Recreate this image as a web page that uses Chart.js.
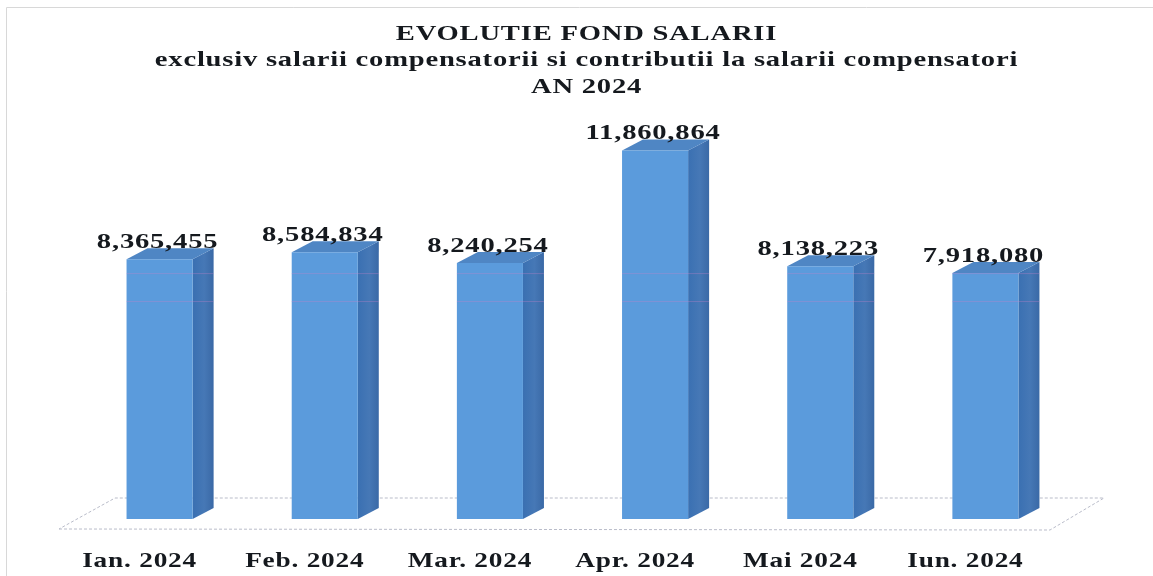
<!DOCTYPE html>
<html>
<head>
<meta charset="utf-8">
<style>
html, body { margin: 0; padding: 0; background: #fff; }
#wrap { position: relative; width: 1153px; height: 576px; }
</style>
<script src="https://cdn.jsdelivr.net/npm/chart.js@4"></script>
</head>
<body>
<div id="wrap"><canvas id="myChart"></canvas></div>
<script>
const categories = ['Ian. 2024', 'Feb. 2024', 'Mar. 2024', 'Apr. 2024', 'Mai 2024', 'Iun. 2024'];
const fondSalarii = [8365455, 8584834, 8240254, 11860864, 8138223, 7918080];
const valueLabels = ['8,365,455', '8,584,834', '8,240,254', '11,860,864', '8,138,223', '7,918,080'];
const titleLines = [
    'EVOLUTIE FOND SALARII',
    'exclusiv salarii compensatorii si contributii la salarii compensatori',
    'AN 2024'
];
const gridValues = [7000000, 7900000];

const DEPTH_X = 21;
const DEPTH_Y = 11;
const TEXT_STRETCH = 1.3;
const TITLE_SHIFT = 14;

// the scanned text is wider than any installed serif, so stretch it around its anchor
function stretchText(ctx) {
    const fillText = ctx.fillText.bind(ctx);
    ctx.fillText = (text, x, y) => {
        ctx.save();
        ctx.translate(x, y);
        ctx.scale(TEXT_STRETCH, 1);
        fillText(text, 0, 0);
        ctx.restore();
    };
}

// 3D look: side and top faces, floor and value labels hang off the real bar elements
const bars3d = {
    id: 'bars3d',
    beforeInit(chart) {
        stretchText(chart.ctx);
    },
    afterLayout(chart) {
        // title sits centred on the page width, not on the plot
        chart.titleBlock.left += TITLE_SHIFT;
        chart.titleBlock.right += TITLE_SHIFT;
    },
    beforeDraw(chart) {
        const ctx = chart.ctx;
        ctx.letterSpacing = '0.6px';
        ctx.save();
        ctx.strokeStyle = '#d8d8d8';
        ctx.lineWidth = 1;
        ctx.beginPath();
        ctx.moveTo(6.5, chart.height);
        ctx.lineTo(6.5, 7.5);
        ctx.lineTo(chart.width, 7.5);
        ctx.stroke();
        ctx.restore();
    },
    beforeDatasetsDraw(chart) {
        const ctx = chart.ctx;
        const area = chart.chartArea;
        const base = chart.scales.y.getPixelForValue(0);
        ctx.save();
        ctx.strokeStyle = '#b9bcc9';
        ctx.lineWidth = 1;
        ctx.setLineDash([3, 2]);
        ctx.beginPath();
        ctx.moveTo(area.left - 18, base + 10);
        ctx.lineTo(area.right - 18, base + 11);
        ctx.lineTo(area.right + 36, base - 21);
        ctx.lineTo(area.left + 38, base - 21);
        ctx.closePath();
        ctx.stroke();
        ctx.restore();

        const meta = chart.getDatasetMeta(0);
        meta.data.forEach((bar) => {
            const right = bar.x + bar.width / 2;
            const left = bar.x - bar.width / 2;
            const side = ctx.createLinearGradient(right, 0, right + DEPTH_X, 0);
            side.addColorStop(0, '#3a70b2');
            side.addColorStop(0.55, '#4678b6');
            side.addColorStop(1, '#3a69a6');
            ctx.fillStyle = side;
            ctx.beginPath();
            ctx.moveTo(right, bar.y);
            ctx.lineTo(right + DEPTH_X, bar.y - DEPTH_Y);
            ctx.lineTo(right + DEPTH_X, bar.base - DEPTH_Y);
            ctx.lineTo(right, bar.base);
            ctx.closePath();
            ctx.fill();
            ctx.fillStyle = '#4f86c4';
            ctx.beginPath();
            ctx.moveTo(left, bar.y);
            ctx.lineTo(left + DEPTH_X, bar.y - DEPTH_Y);
            ctx.lineTo(right + DEPTH_X, bar.y - DEPTH_Y);
            ctx.lineTo(right, bar.y);
            ctx.closePath();
            ctx.fill();
        });
    },
    afterDatasetsDraw(chart) {
        const ctx = chart.ctx;
        const meta = chart.getDatasetMeta(0);
        ctx.save();
        // the gridlines only show through the bars in the scan
        ctx.strokeStyle = 'rgba(200, 130, 200, 0.35)';
        ctx.lineWidth = 1;
        meta.data.forEach((bar) => {
            gridValues.forEach((v) => {
                const y = chart.scales.y.getPixelForValue(v);
                if (y < bar.y) return;
                ctx.beginPath();
                ctx.moveTo(bar.x - bar.width / 2, y);
                ctx.lineTo(bar.x + bar.width / 2 + DEPTH_X, y);
                ctx.stroke();
            });
        });
        ctx.fillStyle = '#15191e';
        ctx.font = 'bold 22px "Liberation Serif"';
        ctx.textAlign = 'center';
        ctx.textBaseline = 'middle';
        meta.data.forEach((bar, i) => {
            ctx.fillText(valueLabels[i], bar.x - 2, bar.y - 17);
        });
        ctx.restore();
    }
};

new Chart(document.getElementById('myChart'), {
    type: 'bar',
    data: {
        labels: categories,
        datasets: [{
            label: 'Fond salarii',
            data: fondSalarii,
            backgroundColor: '#5b9bdc',
            barPercentage: 0.4,
            categoryPercentage: 1
        }]
    },
    options: {
        responsive: true,
        maintainAspectRatio: false,
        animation: false,
        layout: { padding: { left: 77, right: 85, top: 12, bottom: 0 } },
        plugins: {
            legend: { display: false },
            tooltip: { enabled: false },
            title: {
                display: true,
                text: titleLines,
                color: '#15191e',
                font: { family: '"Liberation Serif"', size: 22, weight: 'bold', lineHeight: 1.2 },
                padding: { top: 9, bottom: 15 }
            }
        },
        scales: {
            x: {
                grid: { display: false },
                border: { display: false },
                afterFit(scale) {
                    scale.height = 57;
                },
                ticks: {
                    color: '#15191e',
                    padding: 22,
                    labelOffset: -20,
                    maxRotation: 0,
                    autoSkip: false,
                    font: { family: '"Liberation Serif"', size: 21, weight: 'bold' }
                }
            },
            y: {
                display: false,
                min: 0,
                max: 13000000
            }
        }
    },
    plugins: [bars3d]
});
</script>
</body>
</html>
